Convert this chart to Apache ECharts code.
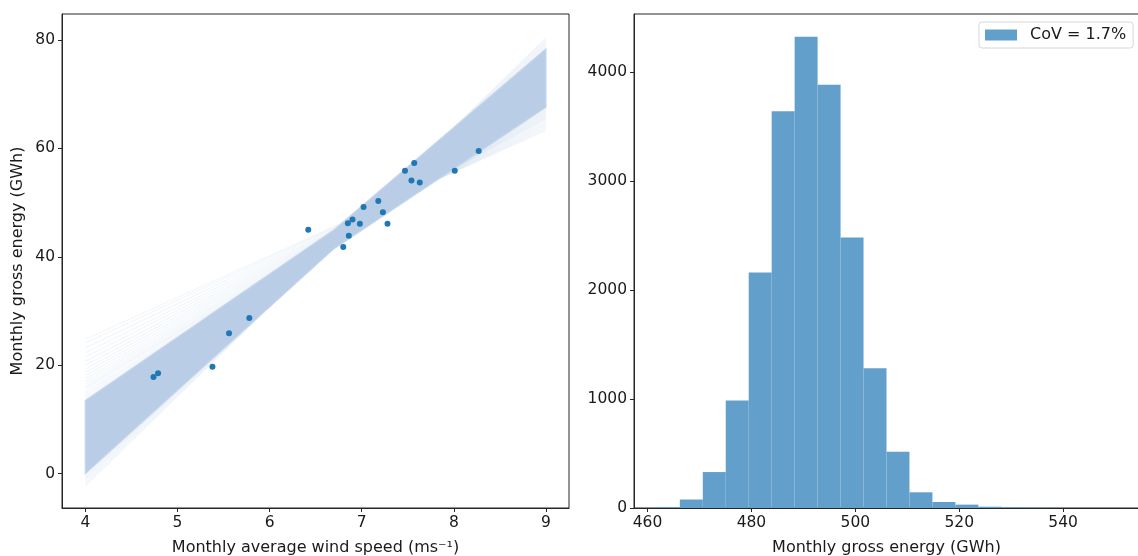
<!DOCTYPE html>
<html>
<head>
<meta charset="utf-8">
<script src="https://cdn.jsdelivr.net/npm/echarts@6/dist/echarts.min.js"></script>
<style>
html,body{margin:0;padding:0;background:#fff;}
#chart{width:1138px;height:556px;}
</style>
</head>
<body>
<div id="chart"></div>
<script>
// ---- Left panel: observed monthly data ----
const windSpeed = [4.74, 4.79, 5.38, 5.56, 5.78, 6.42, 6.80, 6.85, 6.86, 6.90, 6.98, 7.02, 7.18, 7.23, 7.28, 7.47, 7.54, 7.57, 7.63, 8.01, 8.27];
const grossEnergy = [17.8, 18.5, 19.7, 25.9, 28.7, 45.0, 41.8, 46.2, 43.9, 46.9, 46.1, 49.2, 50.3, 48.2, 46.1, 55.9, 54.1, 57.3, 53.7, 55.9, 59.5];

// Dense core of the regression-line fan (envelope at a few wind speeds)
const bandX = [4, 6.7, 9];
const bandUpper = [13.5, 45.0, 78.4];
const bandLower = [0.0, 41.5, 67.6];

// Individual faint regression lines outside the core (values at x=4 and x=9)
const fanX = [4, 9];
const fanY4 = [13.9, 14.3, 14.7, 15.1, 15.6, 16.0, 16.5, 17.0, 17.5, 18.1, 18.7, 19.3, 20.0, 20.7, 21.5, 22.3, 23.2, 24.1, 24.8,
               -0.2, -0.5, -0.8, -1.1, -1.5, -1.9, -2.3];
const fanY9 = [67.6, 67.4, 67.2, 67.0, 66.8, 66.6, 66.4, 66.2, 66.0, 65.8, 65.6, 65.4, 65.1, 64.8, 64.5, 64.2, 63.9, 63.6, 63.3,
               78.6, 78.9, 79.2, 79.5, 79.8, 80.1, 80.4];

const leftXTicks = [4, 5, 6, 7, 8, 9];
const leftYTicks = [0, 20, 40, 60, 80];

// ---- Right panel: histogram of simulated monthly gross energy ----
const binStart = 461.8;
const binWidth = 4.42;
const binCounts = [9, 78, 330, 987, 2161, 3642, 4326, 3886, 2484, 1282, 517, 144, 55, 31, 12, 6, 3, 1, 1, 1];
const rightXTicks = [460, 480, 500, 520, 540];
const rightYTicks = [0, 1000, 2000, 3000, 4000];
const legendLabel = 'CoV = 1.7%';

const FONT = 'DejaVu Sans';
const TXT = '#1a1a1a';
const SPINE = '#262626';
const TICK_FS = 15.5;
const NAME_FS = 16;

const histData = binCounts.map((c, i) => [binStart + i * binWidth, binStart + (i + 1) * binWidth, c]);

const fanSeries = fanY4.map((y4, i) => ({
  type: 'line',
  xAxisIndex: 0, yAxisIndex: 0,
  data: [[fanX[0], y4], [fanX[1], fanY9[i]]],
  showSymbol: false,
  silent: true,
  z: 1,
  lineStyle: { color: '#b0c4de', width: 1.2, opacity: 0.16 }
}));

function makeAxis(extra, ticks) {
  return Object.assign({
    type: 'value',
    axisLine: { show: true, onZero: false, lineStyle: { color: SPINE, width: 1 } },
    axisTick: { show: true, length: 4, customValues: ticks, lineStyle: { color: SPINE, width: 1 } },
    splitLine: { show: false },
    axisLabel: { color: TXT, fontFamily: FONT, fontSize: TICK_FS, margin: 7, customValues: ticks,
                 formatter: function (v) { return String(v); } },
    nameTextStyle: { color: TXT, fontFamily: FONT, fontSize: NAME_FS }
  }, extra);
}

const chart = echarts.init(document.getElementById('chart'), null, { renderer: 'canvas' });

const option = {
  animation: false,
  backgroundColor: '#fff',
  textStyle: { fontFamily: FONT },
  grid: [
    { left: 62, top: 14, width: 507, height: 494, containLabel: false, outerBoundsMode: 'none',
      show: true, borderColor: SPINE, borderWidth: 1, backgroundColor: 'transparent' },
    { left: 634, top: 14, width: 505, height: 494, containLabel: false, outerBoundsMode: 'none',
      show: true, borderColor: SPINE, borderWidth: 1, backgroundColor: 'transparent' }
  ],
  legend: {
    data: [{ name: legendLabel, icon: 'rect' }],
    left: 979, top: 22,
    itemWidth: 32, itemHeight: 11,
    padding: [5, 7, 5, 6],
    borderColor: '#d6d6d6', borderWidth: 1, borderRadius: 3,
    backgroundColor: 'rgba(255,255,255,0.8)',
    textStyle: { color: TXT, fontFamily: FONT, fontSize: NAME_FS, padding: [0, 0, 0, 8] }
  },
  xAxis: [
    makeAxis({ gridIndex: 0, min: 3.747, max: 9.25,
      name: 'Monthly average wind speed (ms\u207B\u00B9)', nameLocation: 'middle', nameGap: 32 }, leftXTicks),
    makeAxis({ gridIndex: 1, min: 457.4, max: 554.6,
      name: 'Monthly gross energy (GWh)', nameLocation: 'middle', nameGap: 32 }, rightXTicks)
  ],
  yAxis: [
    makeAxis({ gridIndex: 0, min: -6.35, max: 84.8,
      name: 'Monthly gross energy (GWh)', nameLocation: 'middle', nameGap: 36 }, leftYTicks),
    makeAxis({ gridIndex: 1, min: 0, max: 4535 }, rightYTicks)
  ],
  series: fanSeries.concat([
    {
      type: 'custom',
      xAxisIndex: 0, yAxisIndex: 0,
      silent: true,
      z: 2,
      data: [[bandX[0], bandLower[0]]],
      renderItem: function (params, api) {
        const pts = [];
        for (let i = 0; i < bandX.length; i++) pts.push(api.coord([bandX[i], bandUpper[i]]));
        for (let i = bandX.length - 1; i >= 0; i--) pts.push(api.coord([bandX[i], bandLower[i]]));
        return { type: 'polygon', shape: { points: pts }, style: { fill: '#b9cde6', stroke: '#c6d6eb', lineWidth: 1.2 } };
      }
    },
    {
      type: 'scatter',
      xAxisIndex: 0, yAxisIndex: 0,
      z: 5,
      symbol: 'circle', symbolSize: 6,
      itemStyle: { color: '#1f77b4', opacity: 1 },
      data: windSpeed.map((x, i) => [x, grossEnergy[i]])
    },
    {
      name: legendLabel,
      type: 'custom',
      xAxisIndex: 1, yAxisIndex: 1,
      itemStyle: { color: '#62a0cb' },
      encode: { x: [0, 1], y: 2 },
      data: histData,
      renderItem: function (params, api) {
        const p0 = api.coord([api.value(0), api.value(2)]);
        const p1 = api.coord([api.value(1), 0]);
        return {
          type: 'rect',
          shape: { x: p0[0], y: p0[1], width: p1[0] - p0[0], height: p1[1] - p0[1] },
          style: { fill: '#62a0cb' }
        };
      }
    }
  ])
};
chart.setOption(option);
</script>
</body>
</html>
